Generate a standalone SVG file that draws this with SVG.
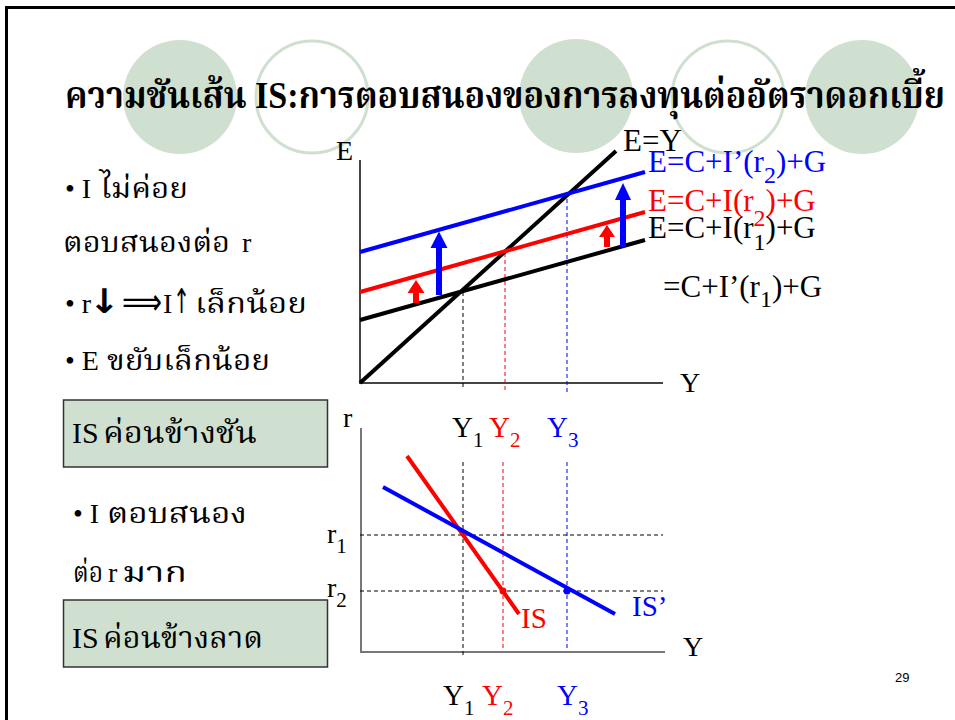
<svg xmlns="http://www.w3.org/2000/svg" width="955" height="720" viewBox="0 0 955 720">
<style>
.deco{fill:#d0e0d0}
.ring{fill:none;stroke:#d0e0d0;stroke-width:3}
.t{font-family:'Liberation Serif','Noto Serif Thai','Noto Sans Thai',serif;fill:#000}
.th{font-family:'Noto Serif Thai','Noto Sans Thai','Liberation Serif',serif;fill:#000}
.sym{font-family:'DejaVu Sans',sans-serif;fill:#000}
.ax{stroke:#444;stroke-width:2;fill:none}
.dk{stroke:#000;stroke-width:1;stroke-dasharray:4 3;fill:none}
.dr{stroke:#ff0000;stroke-width:1;stroke-dasharray:4 3;fill:none}
.db{stroke:#0000ff;stroke-width:1;stroke-dasharray:4 3;fill:none}
.box{fill:#d0e0d0;stroke:#333;stroke-width:1.5}
.lk{stroke:#000;stroke-width:4;fill:none}
.lr{stroke:#ff0000;stroke-width:4;fill:none}
.lb{stroke:#0000ff;stroke-width:4;fill:none}
</style>
<rect x="0" y="0" width="955" height="720" fill="#fff"/>
<rect x="6.5" y="7.5" width="1000" height="1000" fill="none" stroke="#000" stroke-width="3"/>
<g id="decor">
<circle class="deco" cx="180" cy="97" r="57"/>
<circle class="ring" cx="312" cy="97" r="56"/>
<circle class="deco" cx="576" cy="96" r="57"/>
<circle class="ring" cx="728" cy="97" r="56"/>
<circle class="deco" cx="862" cy="97" r="57"/>
</g>
<g id="title">
<text class="t" x="65" y="108" font-size="38" font-weight="bold" textLength="880" lengthAdjust="spacingAndGlyphs">ความชันเส้น IS:การตอบสนองของการลงทุนต่ออัตราดอกเบี้ย</text>
</g>
<g id="left-text" font-size="28">
<text class="t" x="65" y="198">• I</text>
<text class="th" x="100" y="198" textLength="88" lengthAdjust="spacingAndGlyphs">ไม่ค่อย</text>
<text class="th" x="63" y="252" textLength="167" lengthAdjust="spacingAndGlyphs">ตอบสนองต่อ</text>
<text class="t" x="242" y="252">r</text>
<text class="t" x="65" y="313">• r</text>
<text class="sym" x="89" y="313" font-size="34" font-weight="bold" textLength="31" lengthAdjust="spacingAndGlyphs">↓</text>
<text class="sym" x="122" y="314" font-size="36" textLength="40" lengthAdjust="spacingAndGlyphs">⟹</text>
<text class="t" x="163" y="313">I</text>
<text class="sym" x="173" y="313" font-size="34" textLength="17" lengthAdjust="spacingAndGlyphs">↑</text>
<text class="th" x="195" y="313" textLength="112" lengthAdjust="spacingAndGlyphs">เล็กน้อย</text>
<text class="t" x="65" y="370">• E</text>
<text class="th" x="107" y="370" textLength="163" lengthAdjust="spacingAndGlyphs">ขยับเล็กน้อย</text>
<text class="t" x="73" y="523">• I</text>
<text class="th" x="107" y="523" textLength="140" lengthAdjust="spacingAndGlyphs">ตอบสนอง</text>
<text class="th" x="73" y="582" textLength="30" lengthAdjust="spacingAndGlyphs">ต่อ</text>
<text class="t" x="108" y="582">r</text>
<text class="th" x="122" y="582" textLength="65" lengthAdjust="spacingAndGlyphs">มาก</text>
</g>
<g id="box-steep">
<rect class="box" x="63.5" y="400" width="264" height="67"/>
<text class="t" x="72" y="443" font-size="30">IS</text>
<text class="th" x="103" y="443" font-size="30" textLength="154" lengthAdjust="spacingAndGlyphs">ค่อนข้างชัน</text>
</g>
<g id="box-flat">
<rect class="box" x="63.5" y="600" width="264" height="67"/>
<text class="t" x="72" y="648" font-size="30">IS</text>
<text class="th" x="103" y="648" font-size="30" textLength="160" lengthAdjust="spacingAndGlyphs">ค่อนข้างลาด</text>
</g>
<g id="upper-graph">
<path class="ax" d="M360 160V383H663"/>
<text class="t" x="336" y="160" font-size="28">E</text>
<text class="t" x="680" y="392" font-size="28">Y</text>
<path class="dk" d="M463 292V389"/>
<path class="dr" d="M505 253V393"/>
<path class="db" d="M567 192V393"/>
<path class="lk" d="M360 383L616 151"/>
<path class="lk" d="M360 320L645 240"/>
<path class="lr" d="M360 292L645 212"/>
<path class="lb" d="M360 252L645 172"/>
<path fill="#ff0000" d="M413 303V293H407.5L416 280L424.5 293H419V303Z"/>
<path fill="#0000ff" d="M436 295V248H430.5L439 231.5L447.5 248H442V295Z"/>
<path fill="#ff0000" d="M604 247V237H599L607 225L615 237H610V247Z"/>
<path fill="#0000ff" d="M620 247V200H615L623 183L631 200H626V247Z"/>
</g>
<g id="upper-labels" font-size="31">
<text class="t" x="623" y="151">E=Y</text>
<text class="t" x="648" y="172" style="fill:#0000ff">E=C+I’(r<tspan font-size="24" dy="11">2</tspan><tspan dy="-11">)+G</tspan></text>
<text class="t" x="648" y="211" style="fill:#ff0000">E=C+I(r<tspan font-size="24" dy="15">2</tspan><tspan dy="-15">)+G</tspan></text>
<text class="t" x="648" y="238">E=C+I(r<tspan font-size="24" dy="12">1</tspan><tspan dy="-12">)+G</tspan></text>
<text class="t" x="663" y="297">=C+I’(r<tspan font-size="24" dy="10">1</tspan><tspan dy="-10">)+G</tspan></text>
</g>
<g id="y-labels-top" font-size="29">
<text class="t" x="452" y="437">Y<tspan font-size="21" dy="10">1</tspan></text>
<text class="t" x="489" y="437" style="fill:#ff0000">Y<tspan font-size="21" dy="10">2</tspan></text>
<text class="t" x="547" y="437" style="fill:#0000ff">Y<tspan font-size="21" dy="10">3</tspan></text>
</g>
<g id="lower-graph">
<path class="ax" d="M361 428V652H665" style="stroke:#777"/>
<text class="t" x="343" y="427" font-size="28">r</text>
<text class="t" x="683" y="656" font-size="28">Y</text>
<path class="dk" d="M360 535H663M360 591H663M463 462V658"/>
<path class="dr" d="M503 462V648"/>
<path class="db" d="M567 462V648"/>
<path class="lr" d="M407 456L519 614"/>
<path class="lb" d="M383 487L615 614"/>
<circle cx="503" cy="591" r="3.5" fill="#ff0000"/>
<circle cx="567" cy="591" r="3.5" fill="#0000ff"/>
<text class="t" x="327" y="543" font-size="28">r<tspan font-size="21" dy="10">1</tspan></text>
<text class="t" x="327" y="597" font-size="28">r<tspan font-size="21" dy="10">2</tspan></text>
<text class="t" x="521" y="628" font-size="29" style="fill:#ff0000">IS</text>
<text class="t" x="632" y="616" font-size="29" style="fill:#0000ff">IS’</text>
</g>
<g id="y-labels-bottom" font-size="29">
<text class="t" x="443" y="705">Y<tspan font-size="21" dy="10">1</tspan></text>
<text class="t" x="482" y="705" style="fill:#ff0000">Y<tspan font-size="21" dy="10">2</tspan></text>
<text class="t" x="557" y="705" style="fill:#0000ff">Y<tspan font-size="21" dy="10">3</tspan></text>
</g>
<text x="895" y="682" font-family="'Liberation Sans',Arial,sans-serif" font-size="13" fill="#000">29</text>
</svg>
